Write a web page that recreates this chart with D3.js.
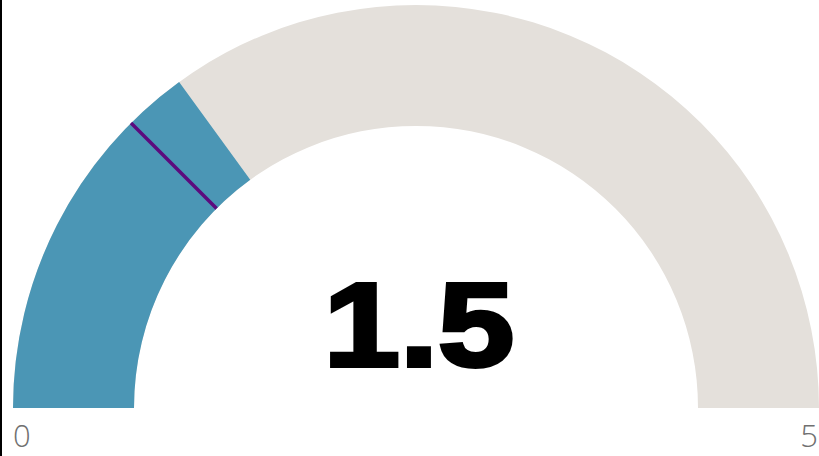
<!DOCTYPE html>
<html>
<head>
<meta charset="utf-8">
<script src="https://cdn.jsdelivr.net/npm/d3@7"></script>
<style>
  body { margin: 0; background: #fff; }
  svg { display: block; }
</style>
</head>
<body>
<div id="chart"></div>
<script>
"use strict";

const gaugeDomain = [0, 5];
const gaugeValue = 1.5;
const targetValue = 1.25;
const tickLabels = ["0", "5"];

const width = 819;
const height = 456;
const cx = 416;
const cy = 408;
const outerR = 403;
const innerR = 282;

const svg = d3.select("#chart")
  .append("svg")
  .attr("width", width)
  .attr("height", height);

// left border line
svg.append("rect")
  .attr("x", 0).attr("y", 0)
  .attr("width", 2).attr("height", height)
  .attr("fill", "#000");

const angle = d3.scaleLinear()
  .domain(gaugeDomain)
  .range([-Math.PI / 2, Math.PI / 2]);

const arc = d3.arc()
  .innerRadius(innerR)
  .outerRadius(outerR);

const g = svg.append("g")
  .attr("transform", "translate(" + cx + "," + cy + ")");

g.append("path")
  .attr("d", arc({ startAngle: angle(gaugeDomain[0]), endAngle: angle(gaugeDomain[1]) }))
  .attr("fill", "#e4e0db");

g.append("path")
  .attr("d", arc({ startAngle: angle(gaugeDomain[0]), endAngle: angle(gaugeValue) }))
  .attr("fill", "#4b96b5");

// target marker
const ta = angle(targetValue);
g.append("line")
  .attr("x1", innerR * Math.sin(ta))
  .attr("y1", -innerR * Math.cos(ta))
  .attr("x2", outerR * Math.sin(ta))
  .attr("y2", -outerR * Math.cos(ta))
  .attr("stroke", "#5c0a7e")
  .attr("stroke-width", 3.5);

// big value, widened to mimic a black-weight face
g.append("text")
  .attr("transform", "translate(3,-42) scale(1.16,1)")
  .attr("text-anchor", "middle")
  .attr("font-family", "Liberation Sans, Arial, sans-serif")
  .attr("font-weight", "bold")
  .attr("font-size", 118)
  .attr("fill", "#000")
  .attr("stroke", "#000")
  .attr("stroke-width", 4)
  .attr("stroke-linejoin", "miter")
  .text(d3.format(".1f")(gaugeValue));

svg.append("text")
  .attr("x", cx - outerR)
  .attr("y", 447)
  .attr("text-anchor", "start")
  .attr("font-family", "Open Sans, sans-serif")
  .attr("font-weight", 300)
  .attr("font-size", 31)
  .attr("fill", "#707070")
  .text(tickLabels[0]);

svg.append("text")
  .attr("x", cx + outerR - 1)
  .attr("y", 447)
  .attr("text-anchor", "end")
  .attr("font-family", "Open Sans, sans-serif")
  .attr("font-weight", 300)
  .attr("font-size", 31)
  .attr("fill", "#707070")
  .text(tickLabels[1]);
</script>
</body>
</html>
